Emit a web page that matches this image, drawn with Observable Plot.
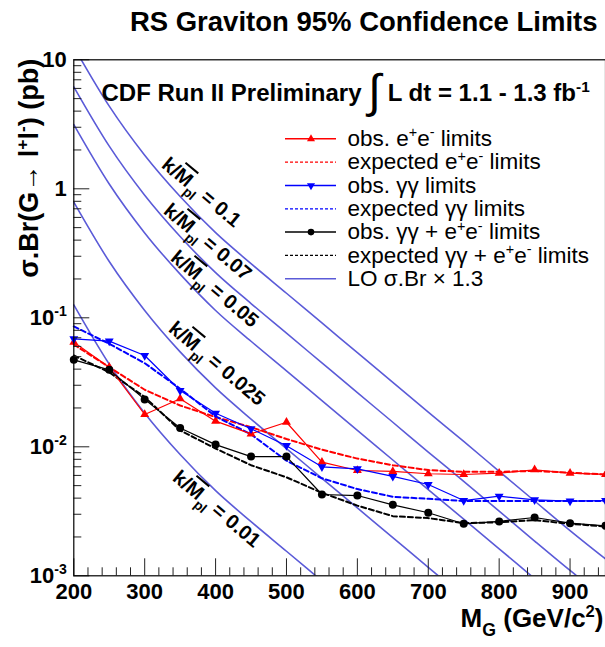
<!DOCTYPE html>
<html>
<head>
<meta charset="utf-8">
<script src="https://cdn.jsdelivr.net/npm/d3@7"></script>
<script src="https://cdn.jsdelivr.net/npm/@observablehq/plot@0.6"></script>
<style>
  html, body { margin: 0; padding: 0; background: #fff; }
  #chart svg { display: block; }
  #chart text { white-space: pre; }
</style>
</head>
<body>
<div id="chart"></div>
<script>
// ---------------- data ----------------
const masses = [200, 250, 300, 350, 400, 450, 500, 550, 600, 650, 700, 750, 800, 850, 900, 950];

const obsEE  = [0.0647, 0.0414, 0.0178, 0.0236, 0.0158, 0.0126, 0.0155, 0.0076, 0.00655, 0.00644, 0.00618, 0.0061, 0.00624, 0.00664, 0.00624, 0.0061];
const expEE  = [0.0621, 0.0414, 0.0277, 0.0209, 0.0170, 0.0142, 0.0115, 0.0095, 0.0081, 0.0072, 0.0066, 0.0064, 0.0064, 0.0065, 0.0063, 0.0061];
const obsGG  = [0.0687, 0.0659, 0.0510, 0.0273, 0.0182, 0.0138, 0.0102, 0.0070, 0.00675, 0.00589, 0.0051, 0.00383, 0.00414, 0.00388, 0.00379, 0.00383];
const expGG  = [0.0857, 0.0629, 0.0445, 0.0282, 0.0172, 0.0125, 0.0078, 0.0057, 0.0047, 0.0041, 0.00395, 0.0038, 0.0038, 0.0038, 0.0038, 0.0038];
const obsComb = [0.0472, 0.0395, 0.0233, 0.0140, 0.0104, 0.0084, 0.0084, 0.00427, 0.00419, 0.00355, 0.00308, 0.00253, 0.00264, 0.00283, 0.00256, 0.00244];
const expComb = [0.0510, 0.0378, 0.0243, 0.0134, 0.0097, 0.0072, 0.0058, 0.0044, 0.0035, 0.0029, 0.0028, 0.00256, 0.0026, 0.0027, 0.00253, 0.00241];

// LO sigma.Br x 1.3 curves, one per coupling k/Mpl
const lo010  = [12.6, 4.37, 1.82, 0.871, 0.457, 0.263, 0.155, 0.0912, 0.0537, 0.0316, 0.0186, 0.0110, 0.00646, 0.00380, 0.00224, 0.00135];
const lo007  = [6.17, 2.14, 0.892, 0.427, 0.224, 0.129, 0.0760, 0.0447, 0.0263, 0.0155, 0.00911, 0.00539, 0.00317, 0.00186, 0.00110, 0.000662];
const lo005  = [3.15, 1.09, 0.455, 0.218, 0.114, 0.0658, 0.0388, 0.0228, 0.0134, 0.0079, 0.00465, 0.00275, 0.00162, 0.00095, 0.00056, 0.00034];
const lo0025 = [0.788, 0.273, 0.114, 0.0544, 0.0286, 0.0164, 0.00969, 0.0057, 0.00336, 0.00198, 0.00116, 0.000688, 0.000404];
const lo001  = [0.126, 0.0437, 0.0182, 0.00871, 0.00457, 0.00263, 0.00155, 0.000912, 0.000537];
const couplingLabels = ["0.1", "0.07", "0.05", "0.025", "0.01"];

// axis ticks
const xMajorTicks = [200, 300, 400, 500, 600, 700, 800, 900];
const xTickLabels = ["200", "300", "400", "500", "600", "700", "800", "900"];
const yMajorTicks = [0.001, 0.01, 0.1, 1, 10];
const yTickLabels = ["10^{-3}", "10^{-2}", "10^{-1}", "1", "10"];

// texts
const titleText = "RS Graviton 95% Confidence Limits";
const cdfText = "CDF Run II Preliminary ∫ L dt = 1.1 - 1.3 fb^{-1}";
const xTitle = "M_{G} (GeV/c^{2})";
const yTitle = "σ.Br(G→ l^{+}l^{-}) (pb)";
const legendLabels = [
  "obs. e^{+}e^{-} limits",
  "expected e^{+}e^{-} limits",
  "obs. γγ limits",
  "expected γγ limits",
  "obs. γγ + e^{+}e^{-} limits",
  "expected γγ + e^{+}e^{-} limits",
  "LO σ.Br × 1.3"
];

// ---------------- styles & layout ----------------
const FONT = "'Liberation Sans', Arial, Helvetica, sans-serif";
const RED = "#ff0000", BLUE = "#0000ff", BLACK = "#000000", LO = "#5b5bd8";
const W = 605, H = 647;
const M = {top: 59.3, right: 0, bottom: 71.7, left: 73.3};
const DASH = "5,3";

// pixel <-> data helpers mirroring the Plot scales (for annotation placement)
const xs = d3.scaleLinear([200, 950], [M.left, W - M.right]);
const ys = d3.scaleLog([1e-3, 10], [H - M.bottom, M.top]);
const at = (px, py) => ({x: xs.invert(px), y: ys.invert(py)});

const triangleDown = {
  draw(context, size) {
    const s3 = Math.sqrt(3);
    const y = -Math.sqrt(size / (s3 * 3));
    context.moveTo(0, -y * 2);
    context.lineTo(-s3 * y, y);
    context.lineTo(s3 * y, y);
    context.closePath();
  }
};

const toRows = (vals) => vals.map((v, i) => ({m: masses[i], v}));

const xMinorTicks = d3.range(200, 951, 20).filter(v => v % 100 !== 0);
const yMinorTicks = [-3, -2, -1, 0].flatMap(e => d3.range(2, 10).map(k => k * Math.pow(10, e)));

const loSets = [lo010, lo007, lo005, lo0025, lo001];
const loLabelPix = [[160, 166], [162, 212], [169, 259], [167, 330], [171, 479]];

const marks = [];

// LO curves
loSets.forEach(arr => {
  marks.push(Plot.line(toRows(arr), {x: "m", y: "v", stroke: LO, strokeWidth: 1.6, curve: "monotone-x", clip: true}));
});

// expected (dashed)
marks.push(Plot.line(toRows(expEE), {x: "m", y: "v", stroke: RED, strokeWidth: 2, strokeDasharray: DASH}));
marks.push(Plot.line(toRows(expGG), {x: "m", y: "v", stroke: BLUE, strokeWidth: 2, strokeDasharray: DASH}));
marks.push(Plot.line(toRows(expComb), {x: "m", y: "v", stroke: BLACK, strokeWidth: 2, strokeDasharray: DASH}));

// observed
marks.push(Plot.line(toRows(obsEE), {x: "m", y: "v", stroke: RED, strokeWidth: 1.2}));
marks.push(Plot.dot(toRows(obsEE), {x: "m", y: "v", fill: RED, symbol: "triangle", r: 3.3}));
marks.push(Plot.line(toRows(obsGG), {x: "m", y: "v", stroke: BLUE, strokeWidth: 1.2}));
marks.push(Plot.dot(toRows(obsGG), {x: "m", y: "v", fill: BLUE, symbol: triangleDown, r: 3.3}));
marks.push(Plot.line(toRows(obsComb), {x: "m", y: "v", stroke: BLACK, strokeWidth: 1.2}));
marks.push(Plot.dot(toRows(obsComb), {x: "m", y: "v", fill: BLACK, r: 4}));

// coupling labels along the curves
couplingLabels.forEach((c, i) => {
  const p = at(loLabelPix[i][0], loLabelPix[i][1]);
  marks.push(Plot.text([{...p, t: "k/~{M}_{pl} = " + c}], {
    x: "x", y: "y", text: "t", rotate: 40, textAnchor: "start", lineAnchor: "bottom",
    fontSize: 20, fontWeight: "bold", fill: BLACK
  }));
});

// CDF label
{
  const p = at(101, 100.7);
  marks.push(Plot.text([{...p, t: cdfText}], {x: "x", y: "y", text: "t", textAnchor: "start", lineAnchor: "bottom", fontSize: 24, fontWeight: "bold"}));
}

// legend
const legendStyle = [
  {stroke: RED, dash: null, symbol: "triangle", width: 1.5},
  {stroke: RED, dash: "3,2", symbol: null, width: 1.2},
  {stroke: BLUE, dash: null, symbol: triangleDown, width: 1.5},
  {stroke: BLUE, dash: "3,2", symbol: null, width: 1.2},
  {stroke: BLACK, dash: null, symbol: "circle", width: 1.5},
  {stroke: BLACK, dash: "3,2", symbol: null, width: 1.2},
  {stroke: LO, dash: null, symbol: null, width: 1.5}
];
legendLabels.forEach((lab, i) => {
  const py = 138.3 + 23.33 * i;
  const a = at(285, py), b = at(336, py), mid = at(310.5, py), tx = at(347, py);
  const st = legendStyle[i];
  marks.push(Plot.ruleY([a.y], {x1: a.x, x2: b.x, stroke: st.stroke, strokeWidth: st.width, strokeDasharray: st.dash ?? undefined}));
  if (st.symbol) marks.push(Plot.dot([mid], {x: "x", y: "y", fill: st.stroke, symbol: st.symbol, r: st.symbol === "circle" ? 3.3 : 3}));
  marks.push(Plot.text([{...tx, t: lab}], {x: "x", y: "y", text: "t", textAnchor: "start", lineAnchor: "middle", fontSize: 22.5, fill: BLACK}));
});

// axes: ticks drawn inward, labels outside
marks.push(Plot.axisY(yMajorTicks, {tickSize: -16, tickFormat: () => "", label: null, stroke: "#222"}));
marks.push(Plot.axisY(yMinorTicks, {tickSize: -8, tickFormat: () => "", label: null, stroke: "#222"}));
marks.push(Plot.axisY(yMajorTicks, {tickSize: 0, tickPadding: 7, tickFormat: (d) => yTickLabels[yMajorTicks.indexOf(d)], label: null, fontSize: 22, fontWeight: "bold"}));
marks.push(Plot.axisX(xMajorTicks, {tickSize: -17, tickFormat: () => "", label: null, stroke: "#222"}));
marks.push(Plot.axisX(xMinorTicks, {tickSize: -8, tickFormat: () => "", label: null, stroke: "#222"}));
marks.push(Plot.axisX(xMajorTicks, {tickSize: 0, tickPadding: 8, tickFormat: d => xTickLabels[xMajorTicks.indexOf(d)], label: null, fontSize: 22, fontWeight: "bold"}));

marks.push(Plot.frame({stroke: BLACK, strokeWidth: 1.2}));

// titles
marks.push(Plot.text([titleText], {frameAnchor: "top-right", textAnchor: "end", lineAnchor: "bottom", dx: -8, dy: -29, fontSize: 27.5, fontWeight: "bold"}));
marks.push(Plot.text([xTitle], {frameAnchor: "bottom-right", textAnchor: "end", lineAnchor: "bottom", dx: -2, dy: 51, fontSize: 26, fontWeight: "bold"}));
marks.push(Plot.text([yTitle], {frameAnchor: "top-left", textAnchor: "end", lineAnchor: "bottom", rotate: -90, dx: -36, dy: -1, fontSize: 27, fontWeight: "bold"}));

const chart = Plot.plot({
  width: W,
  height: H,
  marginTop: M.top,
  marginRight: M.right,
  marginBottom: M.bottom,
  marginLeft: M.left,
  style: {fontFamily: FONT, fontSize: "20px", background: "#fff", overflow: "visible"},
  x: {type: "linear", domain: [200, 950], label: null},
  y: {type: "log", domain: [1e-3, 10], label: null},
  marks
});
document.getElementById("chart").appendChild(chart);

// ---------------- rich text: ^{sup}, _{sub}, ~{overline}, big integral ----------------
function richify(root) {
  root.querySelectorAll("text").forEach(el => {
    const s = el.textContent;
    if (!/[\^_~]\{|∫/.test(s)) return;
    const fs = parseFloat(getComputedStyle(el).fontSize) || 16;
    const parts = [];
    const re = /([\^_~])\{([^}]*)\}|∫/g;
    let last = 0, m;
    while ((m = re.exec(s))) {
      if (m.index > last) parts.push({t: s.slice(last, m.index), k: "n"});
      if (m[0] === "∫") parts.push({t: "∫", k: "int"});
      else parts.push({t: m[2], k: m[1]});
      last = re.lastIndex;
    }
    if (last < s.length) parts.push({t: s.slice(last), k: "n"});
    el.textContent = "";
    el.setAttribute("style", (el.getAttribute("style") || "") + ";white-space:pre");
    let cur = 0;
    for (const p of parts) {
      const ts = document.createElementNS("http://www.w3.org/2000/svg", "tspan");
      let target = 0;
      if (p.k === "^") { target = -0.38 * fs; ts.setAttribute("font-size", (0.64 * fs).toFixed(1)); }
      else if (p.k === "_") { target = 0.34 * fs; ts.setAttribute("font-size", (0.68 * fs).toFixed(1)); }
      else if (p.k === "~") { ts.setAttribute("text-decoration", "overline"); }
      else if (p.k === "int") { target = 0.24 * fs; ts.setAttribute("font-size", (1.95 * fs).toFixed(1)); ts.setAttribute("font-weight", "normal"); }
      const dy = target - cur;
      if (Math.abs(dy) > 0.01) ts.setAttribute("dy", dy.toFixed(2));
      cur = target;
      ts.textContent = p.t;
      el.appendChild(ts);
    }
  });
}
richify(chart);
</script>
</body>
</html>
